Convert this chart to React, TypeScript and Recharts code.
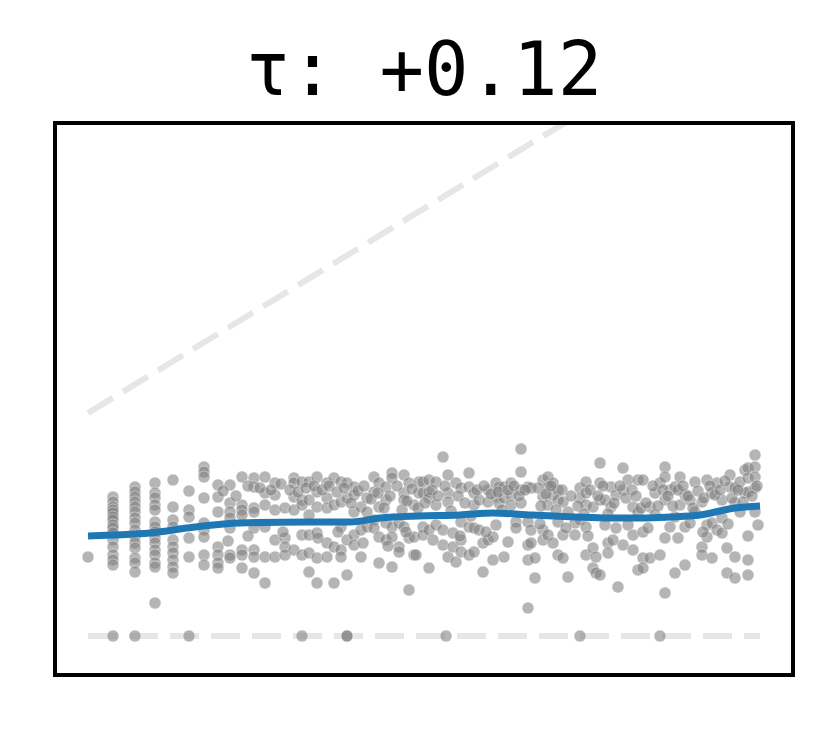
import {
  ComposedChart, Scatter, Line, XAxis, YAxis, ReferenceLine, ReferenceArea,
} from 'recharts'

const TITLE = 'τ: +0.12'

// scatter columns: [x, y values]
const COLUMNS: [number, number[]][] = [
  [0, [79]],
  [25, [139, 134, 129, 126, 123, 119, 116, 111, 108, 103, 96, 89, 81, 76, 71, 0]],
  [47, [149, 144, 139, 134, 129, 124, 118, 113, 106, 99, 93, 88, 78, 73, 64, 0]],
  [67, [153, 143, 138, 131, 126, 114, 109, 104, 98, 93, 86, 81, 73, 69, 33]],
  [85, [156, 129, 116, 109, 96, 89, 83, 76, 69, 63]],
  [101, [145, 126, 119, 98, 79, 0]],
  [116, [169, 164, 159, 138, 113, 106, 99, 81, 71]],
  [130, [151, 139, 124, 89, 81, 73, 68]],
  [142, [151, 133, 124, 118, 108, 81, 78]],
  [154, [159, 131, 126, 121, 86, 81, 68]],
  [166, [158, 149, 128, 124, 108, 86, 79, 63]],
  [177, [159, 143, 131, 109, 79, 53]],
  [187, [153, 141, 126, 96, 79]],
  [197, [128, 98, 89, 81]],
  [206, [158, 153, 139, 126, 86]],
  [214, [154, 136, 131, 101, 81, 0]],
  [221, [154, 136, 121, 101, 83, 64]],
  [229, [159, 144, 129, 103, 78, 53]],
  [239, [153, 138, 128, 93, 79]],
  [246, [158, 131, 89, 53]],
  [253, [154, 134, 109, 86, 79]],
  [259, [153, 138, 96, 61, 0, 0]],
  [266, [149, 141, 124, 101, 91]],
  [273, [129, 106, 79]],
  [279, [138, 124, 109]],
  [286, [159, 144, 116, 108]],
  [291, [153, 129, 99, 73]],
  [298, [149, 136, 113, 96]],
  [304, [163, 158, 109, 99, 69]],
  [311, [113, 89, 84]],
  [316, [161, 143, 136, 109]],
  [321, [153, 98, 46]],
  [326, [131, 99, 81]],
  [328, [81]],
  [331, [154, 143]],
  [335, [154, 143, 109, 101]],
  [341, [156, 144, 138, 106, 68]],
  [348, [154, 131, 111]],
  [355, [179, 106, 91]],
  [358, [0]],
  [360, [161, 143, 134, 79]],
  [365, [103, 89]],
  [368, [153, 74]],
  [373, [148, 114, 96, 84]],
  [381, [163, 149, 109, 81]],
  [386, [143, 131, 108, 84]],
  [391, [136, 106]],
  [395, [93, 64]],
  [400, [146, 134, 96]],
  [405, [99, 76]],
  [408, [153, 139, 111]],
  [411, [149, 133]],
  [416, [149, 138, 79]],
  [423, [153, 141, 131]],
  [428, [114, 108]],
  [433, [164, 146, 133, 187]],
  [440, [149, 114, 91, 76, 28]],
  [443, [148, 106, 93]],
  [447, [78, 58]],
  [455, [156, 139, 106, 96]],
  [460, [159, 149, 131, 101]],
  [465, [153, 141, 93]],
  [470, [146, 136, 114, 81]],
  [475, [134, 101, 78]],
  [480, [124, 59]],
  [487, [113, 101]],
  [492, [148, 138, 116, 0]],
  [498, [154, 143, 131, 109, 81]],
  [505, [129, 88, 68]],
  [508, [79, 63]],
  [512, [173, 153, 136, 61]],
  [517, [136, 111]],
  [520, [93, 83]],
  [523, [149, 129]],
  [528, [141, 108]],
  [530, [49]],
  [535, [168, 146, 91]],
  [540, [156, 111]],
  [545, [129, 101, 86]],
  [550, [156, 124, 66]],
  [555, [156, 104, 78, 68]],
  [562, [129, 78]],
  [567, [143, 121]],
  [572, [153, 81, 0]],
  [577, [169, 159, 136, 98, 43]],
  [582, [146, 109]],
  [587, [149, 119, 63]],
  [592, [159, 131]],
  [597, [141, 109, 71]],
  [602, [136, 113]],
  [607, [154, 124]],
  [614, [134, 89, 81]],
  [619, [156, 111, 99]],
  [624, [143, 113, 78]],
  [629, [153, 106]],
  [634, [136, 118, 103]],
  [639, [88, 63]],
  [642, [161, 149]],
  [647, [148, 133, 79, 58]],
  [652, [154, 124]],
  [657, [166, 143]],
  [660, [168, 158, 144, 76, 61]],
  [667, [181, 169, 159, 148, 124]],
  [670, [111]],
]

// points inside the dense band
const DENSE_X = [135, 148, 160, 172, 183, 193, 202, 210, 218, 226, 234, 241, 249, 256, 263, 270, 276, 283, 290, 296,
  302, 309, 314, 319, 324, 330, 337, 344, 350, 357, 363, 370, 377, 383, 389, 396, 403, 410, 414, 420,
  426, 431, 437, 450, 453, 458, 463, 468, 474, 483, 490, 496, 502, 510, 515, 520, 526, 532, 538, 544,
  548, 553, 558, 565, 570, 575, 580, 585, 590, 595, 600, 605, 610, 616, 622, 627, 632, 637, 644, 650, 655, 664, 669]
const DENSE_Y = [145, 140, 150, 148, 146, 152, 146, 144, 148, 150, 146, 150, 144, 148, 133, 145, 150, 137, 143, 128,
  140, 150, 126, 135, 147, 128, 133, 146, 140, 150, 125, 140, 133, 120, 146, 150, 142, 144, 126, 146,
  150, 140, 146, 148, 130, 142, 150, 126, 146, 140, 130, 122, 146, 140, 150, 122, 133, 150, 138, 146,
  140, 128, 133, 150, 130, 146, 140, 130, 146, 150, 140, 128, 145, 138, 150, 141, 146, 155, 138, 146, 134, 140, 150]
const LOW_X = [140, 160, 195, 230, 250, 275, 300, 318, 345, 372, 398, 420, 452, 478, 500, 525, 560, 590, 615, 640, 660]
const LOW_Y = [95, 100, 104, 98, 104, 93, 90, 104, 96, 100, 104, 94, 112, 108, 100, 96, 108, 98, 104, 112, 100]

// smoothed trend
const TREND_X = [0, 25, 62, 107, 152, 219, 262, 292, 331, 372, 405, 443, 487, 522, 555, 582, 612, 647, 672]
const TREND_Y = [100, 101, 103, 109, 113, 114, 114, 118, 120, 121, 123, 121, 119, 118, 118, 119, 121, 128, 130]

const X_MIN = 0
const X_MAX = 672
const DIAG_START = 223
const DIAG_END = 632

const points = [
  ...COLUMNS.flatMap(([x, ys]) => ys.map((y) => ({ x, y }))),
  ...DENSE_X.map((x, i) => ({ x, y: DENSE_Y[i] })),
  ...LOW_X.map((x, i) => ({ x, y: LOW_Y[i] })),
]
const trend = TREND_X.map((x, i) => ({ x, y: TREND_Y[i] }))

function Dot(props: any) {
  const { cx, cy } = props
  if (cx == null || cy == null) return null
  return (
    <circle cx={cx} cy={cy} r={6} fill="#808080" fillOpacity={0.58}
      stroke="#ffffff" strokeOpacity={0.4} strokeWidth={1} />
  )
}

export default function App() {
  return (
    <div style={{ position: 'absolute', left: 0, top: 0, width: 830, height: 731, background: '#fff' }}>
      <svg width={830} height={120} style={{ position: 'absolute', left: 0, top: 0 }}>
        <text x={424} y={95} textAnchor="middle" fontFamily="DejaVu Sans Mono" fontSize={74} fill="#000">
          {TITLE}
        </text>
      </svg>
      <div style={{ position: 'absolute', left: 0, top: 0 }}>
        <ComposedChart width={830} height={731} margin={{ top: 123, right: 37, bottom: 56, left: 55 }}>
          <XAxis type="number" dataKey="x" domain={[-33, 705]} hide allowDataOverflow />
          <YAxis type="number" dataKey="y" domain={[-39, 513]} hide allowDataOverflow />
          <ReferenceLine
            segment={[{ x: X_MIN, y: DIAG_START }, { x: X_MAX, y: DIAG_END }]}
            stroke="#e6e6e6" strokeWidth={6} strokeDasharray="29 12" ifOverflow="hidden" zIndex={50}
          />
          <ReferenceLine
            segment={[{ x: X_MIN, y: 0 }, { x: X_MAX, y: 0 }]}
            stroke="#e6e6e6" strokeWidth={6} strokeDasharray="29 12" ifOverflow="hidden" zIndex={50}
          />
          <Scatter data={points} shape={<Dot />} isAnimationActive={false} />
          <Line data={trend} dataKey="y" type="monotone" stroke="#1f77b4" strokeWidth={7}
            dot={false} activeDot={false} isAnimationActive={false} zIndex={700} />
          <ReferenceArea x1={-33} x2={705} y1={-39} y2={513} fill="none" fillOpacity={0}
            stroke="#000" strokeWidth={4} strokeOpacity={1} ifOverflow="visible" zIndex={800} />
        </ComposedChart>
      </div>
    </div>
  )
}
